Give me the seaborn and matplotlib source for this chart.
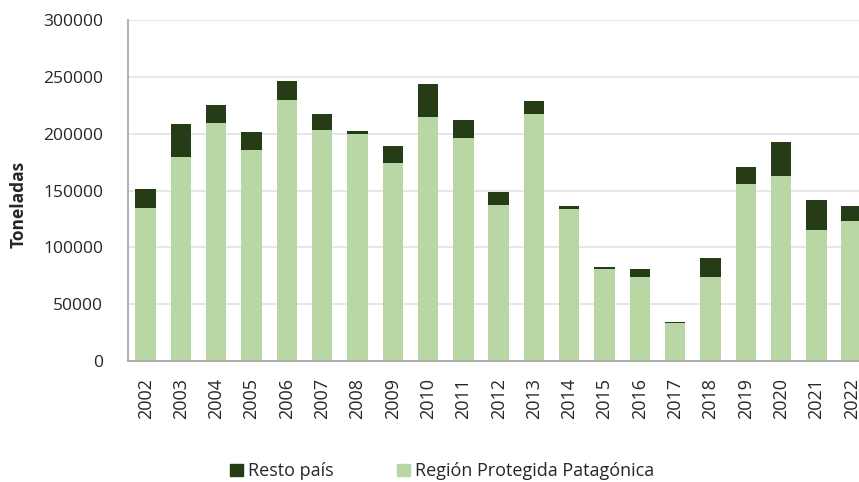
import numpy as np
import pandas as pd
import matplotlib.pyplot as plt
import seaborn as sns
from matplotlib.patches import Patch

# data (toneladas)
years = [str(y) for y in range(2002, 2023)]
region_patagonica = [134800, 179200, 209600, 185400, 229800, 203200, 199400, 174600,
                     214600, 196200, 137100, 216900, 133600, 80700, 73700, 33100,
                     74300, 156100, 163200, 115500, 123100]
resto_pais = [16700, 29300, 15600, 16100, 16100, 13700, 3200, 14300,
              29300, 15800, 11700, 11800, 3200, 1800, 7000, 1400,
              16300, 14900, 29200, 26300, 13700]

DARK = "#253c16"
LIGHT = "#b9d7a4"

df = pd.DataFrame({"year": years, "region": region_patagonica, "resto": resto_pais})
df["total"] = df["region"] + df["resto"]

sns.set_theme(style="white")
plt.rcParams["font.family"] = ["Open Sans", "DejaVu Sans"]

fig = plt.figure(figsize=(8.59, 4.82), dpi=100)
ax = fig.add_axes([0.149, 0.251, 0.863, 0.7075])

# dark bar = total, light bar (region) drawn on top -> stacked look
sns.barplot(data=df, x="year", y="total", color=DARK, width=0.58,
            saturation=1, linewidth=0, ax=ax, zorder=3)
sns.barplot(data=df, x="year", y="region", color=LIGHT, width=0.58,
            saturation=1, linewidth=0, ax=ax, zorder=3)

ax.set_ylim(0, 300000)
ax.set_xlim(-0.5, len(years) - 0.5)
ax.set_yticks(np.arange(0, 300001, 50000))
ax.set_yticklabels([str(v) for v in range(0, 300001, 50000)], fontsize=12.5)
ax.tick_params(axis="x", labelrotation=90, labelsize=13, length=0, pad=12)
ax.tick_params(axis="y", length=0, pad=18)
ax.yaxis.grid(True, color="#e3e3e3", linewidth=1.2, zorder=0)
ax.set_axisbelow(True)

for s in ["top", "right"]:
    ax.spines[s].set_visible(False)
for s in ["left", "bottom"]:
    ax.spines[s].set_color("#a6a6a6")
    ax.spines[s].set_zorder(5)

ax.set_xlabel("")
ax.set_ylabel("Toneladas", fontsize=12.5, fontweight="bold")
ax.yaxis.set_label_coords(-0.136, 0.46)

handles = [Patch(color=DARK, label="Resto país"),
           Patch(color=LIGHT, label="Región Protegida Patagónica")]
fig.legend(handles=handles, loc="center", bbox_to_anchor=(0.515, 0.022),
           ncol=2, frameon=False, fontsize=13, handlelength=0.7, handleheight=0.7,
           handletextpad=0.3, columnspacing=3.5)

fig.savefig("out.png", dpi=100)
